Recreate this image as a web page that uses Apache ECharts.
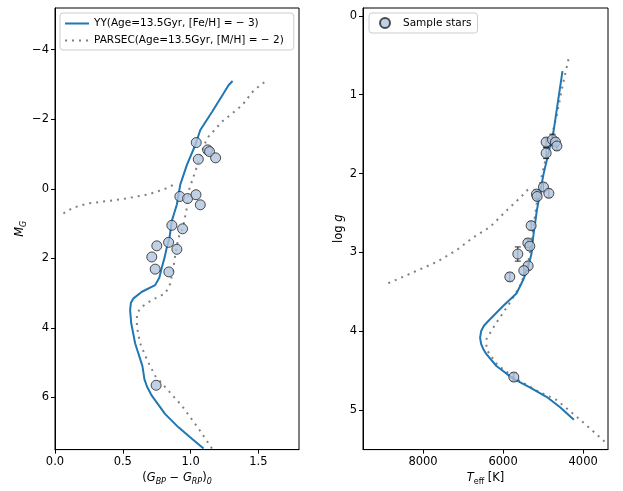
<!DOCTYPE html>
<html>
<head>
<meta charset="utf-8">
<script src="https://cdn.jsdelivr.net/npm/echarts@6/dist/echarts.min.js"></script>
<style>html,body{margin:0;padding:0;background:#fff}#main{width:623px;height:491px}</style>
</head>
<body>
<div id="main"></div>
<script>
// left panel: colour-magnitude diagram
var yyColor = [1.096, 1.010, 0.911, 0.813, 0.714, 0.680, 0.660, 0.645, 0.591, 0.562, 0.554, 0.560, 0.579, 0.641, 0.739, 0.770, 0.789, 0.810, 0.825, 0.845, 0.862, 0.899, 0.924, 0.973, 1.035, 1.072, 1.158, 1.244, 1.280, 1.310];
var yyMG    = [7.47, 7.19, 6.86, 6.48, 5.95, 5.70, 5.48, 5.10, 4.44, 3.86, 3.48, 3.28, 3.15, 2.96, 2.77, 2.55, 2.25, 1.95, 1.68, 1.40, 0.92, 0.45, -0.12, -0.69, -1.26, -1.69, -2.21, -2.75, -2.98, -3.10];
var parsecColor = [1.158, 1.060, 0.936, 0.838, 0.739, 0.678, 0.628, 0.604, 0.604, 0.641, 0.714, 0.813, 0.850, 0.874, 0.892, 0.911, 0.944, 0.973, 0.985, 1.035, 1.084, 1.121, 1.232, 1.380, 1.466, 1.569];
var parsecMG    = [7.47, 6.90, 6.24, 5.81, 5.38, 4.91, 4.44, 3.96, 3.58, 3.39, 3.20, 3.01, 2.73, 2.25, 1.78, 1.40, 1.11, 0.54, 0.07, -0.50, -1.07, -1.45, -1.93, -2.40, -2.83, -3.14];
var hbColor = [0.062, 0.135, 0.246, 0.493, 0.690, 0.813, 0.887];
var hbMG    = [0.71, 0.54, 0.42, 0.30, 0.16, 0.00, -0.14];
var starColor = [1.042, 1.126, 1.140, 1.185, 1.057, 0.921, 0.978, 1.040, 1.072, 0.862, 0.941, 0.838, 0.751, 0.899, 0.714, 0.739, 0.840, 0.746];
var starMG    = [-1.33, -1.12, -1.07, -0.89, -0.85, 0.22, 0.28, 0.17, 0.46, 1.05, 1.15, 1.54, 1.64, 1.74, 1.96, 2.31, 2.39, 5.65];

// right panel: Kiel diagram
var yyTeff = [4517, 4742, 4992, 5158, 5250, 5292, 5375, 5500, 5667, 6000, 6333, 6480, 6550, 6575, 6550, 6500, 6417, 6167, 5750, 5333, 4917, 4583, 4233];
var yyLogg = [0.70, 1.47, 2.01, 2.47, 2.81, 3.02, 3.18, 3.35, 3.52, 3.68, 3.85, 3.93, 4.00, 4.08, 4.16, 4.22, 4.29, 4.44, 4.60, 4.71, 4.83, 4.96, 5.12];
var parsecTeff = [4367, 4517, 4658, 4825, 4992, 5117, 5200, 5250, 5292, 5417, 5583, 5833, 6167, 6417, 6417, 6167, 5750, 5167, 4667, 4167, 3833, 3417];
var parsecLogg = [0.55, 0.89, 1.26, 1.60, 1.93, 2.22, 2.52, 2.68, 2.93, 3.22, 3.43, 3.64, 3.89, 4.10, 4.23, 4.41, 4.58, 4.75, 4.87, 5.08, 5.23, 5.42];
var hbTeff = [8867, 8325, 7658, 7158, 6750, 6333, 5917, 5583, 5358];
var hbLogg = [3.39, 3.27, 3.12, 2.97, 2.81, 2.68, 2.47, 2.31, 2.19];
var starTeff = [4925, 4767, 4692, 4657, 4925, 4992, 5167, 5150, 4858, 5300, 5383, 5333, 5633, 5375, 5483, 5833, 5733];
var starLogg = [1.60, 1.57, 1.60, 1.65, 1.74, 2.17, 2.26, 2.29, 2.25, 2.66, 2.88, 2.92, 3.02, 3.17, 3.23, 3.31, 4.58];
var starErr  = [0.05, 0.07, 0.05, 0.05, 0.07, 0.05, 0.05, 0.05, 0.05, 0.05, 0.05, 0.05, 0.09, 0.05, 0.05, 0.05, 0.05];

var yyName = 'YY(Age=13.5Gyr, [Fe/H] = \u2212 3)';
var parsecName = 'PARSEC(Age=13.5Gyr, [M/H] = \u2212 2)';
var font = 'DejaVu Sans';

function pairs(a, b) { return a.map(function (v, i) { return [v, b[i]]; }); }
function minus(v) { return String(v).replace('-', '\u2212'); }

var parsecLeft = pairs(parsecColor, parsecMG).concat([[null, null]], pairs(hbColor, hbMG));
var parsecRight = pairs(parsecTeff, parsecLogg).concat([[null, null]], pairs(hbTeff, hbLogg));

var sub = {fontSize: 8, fontFamily: font, color: '#000', padding: [7, 0, 0, 0]};
var subI = {fontSize: 8, fontStyle: 'italic', fontFamily: font, color: '#000', padding: [7, 0, 0, 0]};
var ital = {fontStyle: 'italic', fontFamily: font, fontSize: 11.5, color: '#000'};

function axis(o) {
    o.axisLine = {show: true, onZero: false, lineStyle: {color: '#000', width: 1}};
    o.splitLine = {show: false};
    o.axisTick = {show: true, length: 4, lineStyle: {color: '#000'}, customValues: o.ticks};
    o.axisLabel = {color: '#000', fontFamily: font, fontSize: 11.5, margin: 6, customValues: o.ticks, formatter: o.fmt};
    o.nameLocation = 'middle';
    o.nameTextStyle = {color: '#000', fontFamily: font, fontSize: 11.5, rich: {i: ital, s: sub, si: subI}};
    delete o.ticks; delete o.fmt;
    return o;
}

var lineStyleDot = {color: '#808080', width: 2, type: [2, 5]};
var lineStyleYY = {color: '#1f77b4', width: 2};
var starStyle = {color: '#b0c4de', borderColor: '#222', borderWidth: 1};

var chart = echarts.init(document.getElementById('main'));
chart.setOption({
    animation: false,
    textStyle: {fontFamily: font},
    grid: [
        {left: 55, right: 324, top: 8, bottom: 37, show: true, borderColor: '#000', borderWidth: 1},
        {left: 363, right: 15, top: 8, bottom: 37, show: true, borderColor: '#000', borderWidth: 1}
    ],
    legend: [
        {
            data: [yyName, parsecName], orient: 'vertical', left: 60, top: 13,
            itemWidth: 24, itemHeight: 10, itemGap: 6, padding: [5, 10, 4, 4],
            itemStyle: {opacity: 0},
            backgroundColor: '#fff', borderColor: '#ccc', borderWidth: 1, borderRadius: 3,
            textStyle: {fontFamily: font, fontSize: 10.5, color: '#000'}
        },
        {
            data: [{name: 'Sample stars', icon: 'circle'}], left: 369, top: 13,
            itemWidth: 10, itemHeight: 10, padding: [4, 6, 4, 10],
            backgroundColor: '#fff', borderColor: '#ccc', borderWidth: 1, borderRadius: 3,
            textStyle: {fontFamily: font, fontSize: 10.5, color: '#000', padding: [0, 0, 0, 8]}
        }
    ],
    xAxis: [
        axis({
            type: 'value', gridIndex: 0, min: 0, max: 1.8,
            ticks: [0, 0.5, 1.0, 1.5], fmt: function (v) { return v.toFixed(1); },
            name: '({i|G}{si|BP} \u2212 {i|G}{si|RP}){si|0}', nameGap: 21
        }),
        axis({
            type: 'value', gridIndex: 1, min: 3380, max: 9500, inverse: true,
            ticks: [4000, 6000, 8000], fmt: function (v) { return String(v); },
            name: '{i|T}{s|eff} [K]', nameGap: 21
        })
    ],
    yAxis: [
        axis({
            type: 'value', gridIndex: 0, min: -5.2, max: 7.5, inverse: true,
            ticks: [-4, -2, 0, 2, 4, 6], fmt: minus,
            name: '{i|M}{si|G}', nameGap: 27
        }),
        axis({
            type: 'value', gridIndex: 1, min: -0.1, max: 5.5, inverse: true,
            ticks: [0, 1, 2, 3, 4, 5], fmt: function (v) { return String(v); },
            name: 'log {i|g}', nameGap: 18
        })
    ],
    series: [
        {name: parsecName, type: 'line', xAxisIndex: 0, yAxisIndex: 0, data: parsecLeft, symbol: 'none',
            connectNulls: false, lineStyle: lineStyleDot, itemStyle: {color: '#808080'}, z: 2},
        {name: yyName, type: 'line', xAxisIndex: 0, yAxisIndex: 0, data: pairs(yyColor, yyMG), symbol: 'none',
            lineStyle: lineStyleYY, itemStyle: {color: '#1f77b4'}, z: 3},
        {name: 'Sample stars', type: 'scatter', xAxisIndex: 0, yAxisIndex: 0, data: pairs(starColor, starMG),
            symbolSize: 10, itemStyle: starStyle, z: 5},
        {name: parsecName, type: 'line', xAxisIndex: 1, yAxisIndex: 1, data: parsecRight, symbol: 'none',
            connectNulls: false, lineStyle: lineStyleDot, itemStyle: {color: '#808080'}, z: 2},
        {name: yyName, type: 'line', xAxisIndex: 1, yAxisIndex: 1, data: pairs(yyTeff, yyLogg), symbol: 'none',
            lineStyle: lineStyleYY, itemStyle: {color: '#1f77b4'}, z: 3},
        {
            name: 'Sample stars', type: 'custom', xAxisIndex: 1, yAxisIndex: 1, z: 4,
            data: starTeff.map(function (t, i) { return [t, starLogg[i], starErr[i]]; }),
            encode: {x: 0, y: 1},
            renderItem: function (params, api) {
                var x = api.value(0), y = api.value(1), e = api.value(2);
                var a = api.coord([x, y - e]), b = api.coord([x, y + e]);
                var st = {stroke: '#222', lineWidth: 1};
                return {type: 'group', children: [
                    {type: 'line', shape: {x1: a[0], y1: a[1], x2: b[0], y2: b[1]}, style: st},
                    {type: 'line', shape: {x1: a[0] - 3, y1: a[1], x2: a[0] + 3, y2: a[1]}, style: st},
                    {type: 'line', shape: {x1: b[0] - 3, y1: b[1], x2: b[0] + 3, y2: b[1]}, style: st}
                ]};
            }
        },
        {name: 'Sample stars', type: 'scatter', xAxisIndex: 1, yAxisIndex: 1, data: pairs(starTeff, starLogg),
            symbolSize: 10, itemStyle: starStyle, z: 5}
    ]
});
</script>
</body>
</html>
